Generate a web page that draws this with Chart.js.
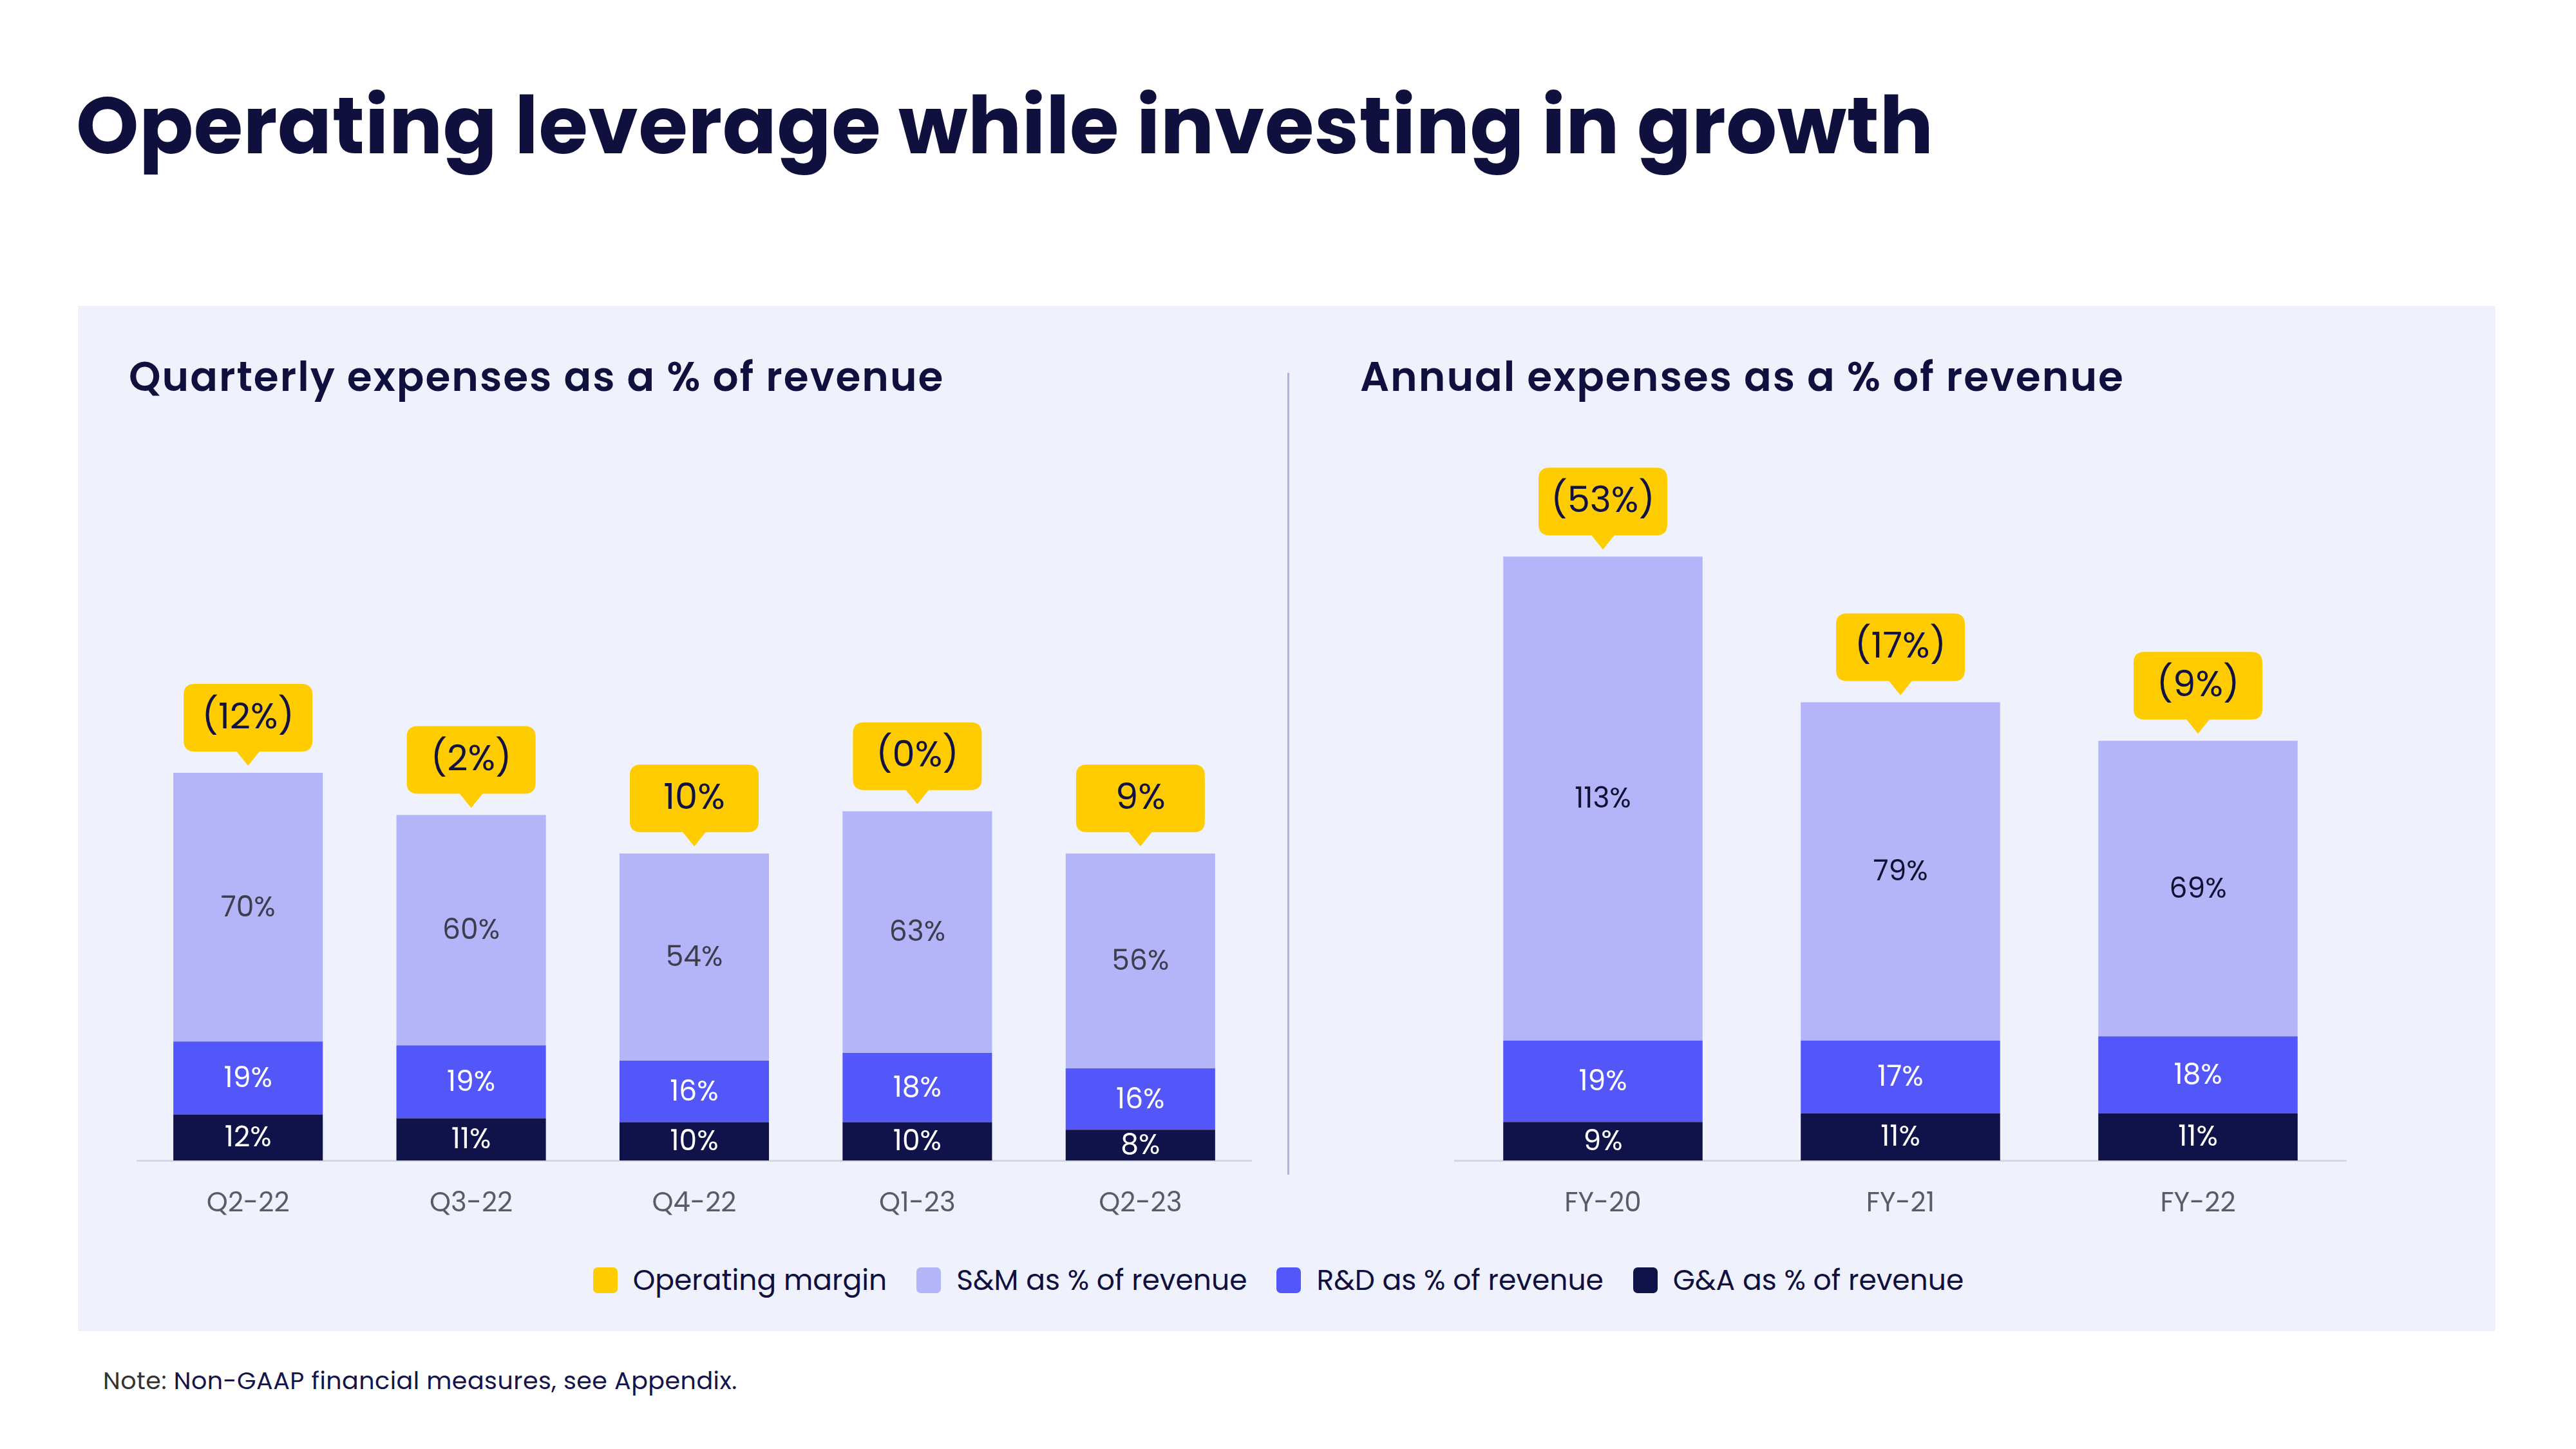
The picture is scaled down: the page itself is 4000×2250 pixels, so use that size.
<!DOCTYPE html>
<html>
<head>
<meta charset="utf-8">
<script src="https://cdn.jsdelivr.net/npm/chart.js@4.4.1/dist/chart.umd.min.js"></script>
<style>
  html, body { margin:0; padding:0; background:#ffffff; }
  body { width:4000px; height:2250px; position:relative; overflow:hidden; font-family: Poppins, Inter, "Noto Sans", sans-serif; }
  .abs { position:absolute; white-space:nowrap; line-height:1; }
  #title { left:118px; top:133px; font-size:124px; font-weight:700; color:#10103f; letter-spacing:0.5px; }
  #panel { left:121px; top:475px; width:3754px; height:1592px; background:#eff1fd; }
  .sub { font-size:63px; font-weight:600; color:#10103f; top:554px; letter-spacing:2px; }
  #divider { left:1999px; top:579px; width:3px; height:1245px; background:#b3b0e0; }
  #legend { left:0; top:1966px; width:3970px; display:flex; justify-content:center; align-items:center; gap:46px; font-size:44px; color:#10103f; }
  .li { display:flex; align-items:center; gap:24px; }
  .sw { width:38px; height:40px; border-radius:7px; }
  #note { left:160px; top:2125px; font-size:38px; color:#14144a; letter-spacing:0.5px; }
  #note span { color:#333333; }
  canvas { position:absolute; }
</style>
</head>
<body>
<div id="panel" class="abs"></div>
<div id="title" class="abs">Operating leverage while investing in growth</div>
<div class="abs sub" style="left:200px;">Quarterly expenses as a % of revenue</div>
<div class="abs sub" style="left:2112px;">Annual expenses as a % of revenue</div>
<div id="divider" class="abs"></div>
<canvas id="q" width="1732" height="1002" style="left:212px; top:900px;"></canvas>
<canvas id="a" width="1386" height="1302" style="left:2258px; top:600px;"></canvas>
<div id="legend" class="abs"></div>
<div id="note" class="abs"><span>Note:</span> Non-GAAP financial measures, see Appendix.</div>

<script>
// ---------- DATA ----------
const quarterLabels = ['Q2-22', 'Q3-22', 'Q4-22', 'Q1-23', 'Q2-23'];
const quarterGA     = [12, 11, 10, 10, 8];
const quarterRD     = [19, 19, 16, 18, 16];
const quarterSM     = [70, 60, 54, 63, 56];
const quarterMargin = [-12, -2, 10, -0.3, 9];

const annualLabels = ['FY-20', 'FY-21', 'FY-22'];
const annualGA     = [9, 11, 11];
const annualRD     = [19, 17, 18];
const annualSM     = [113, 79, 69];
const annualMargin = [-53, -17, -9];

const seriesNames = ['Operating margin', 'S&M as % of revenue', 'R&D as % of revenue', 'G&A as % of revenue'];

// ---------- STYLE ----------
const COLORS = { margin:'#ffcc00', sm:'#b3b5f8', rd:'#5356f9', ga:'#10124a' };
const FONT = 'Poppins, Inter, "Noto Sans", sans-serif';

// legend
const legend = document.getElementById('legend');
const legendColors = [COLORS.margin, COLORS.sm, COLORS.rd, COLORS.ga];
seriesNames.forEach((n, i) => {
  const d = document.createElement('div'); d.className = 'li';
  const s = document.createElement('div'); s.className = 'sw'; s.style.background = legendColors[i];
  const t = document.createElement('span'); t.textContent = n;
  d.appendChild(s); d.appendChild(t); legend.appendChild(d);
});

function fmtMargin(v) {
  const r = Math.round(Math.abs(v));
  return v < 0 ? '(' + r + '%)' : r + '%';
}

function roundRectPath(ctx, x, y, w, h, r) {
  ctx.beginPath();
  ctx.moveTo(x + r, y);
  ctx.lineTo(x + w - r, y);
  ctx.quadraticCurveTo(x + w, y, x + w, y + r);
  ctx.lineTo(x + w, y + h - r);
  ctx.quadraticCurveTo(x + w, y + h, x + w - r, y + h);
  ctx.lineTo(x + r, y + h);
  ctx.quadraticCurveTo(x, y + h, x, y + h - r);
  ctx.lineTo(x, y + r);
  ctx.quadraticCurveTo(x, y, x + r, y);
  ctx.closePath();
}

const segmentLabels = {
  id: 'segmentLabels',
  afterDatasetsDraw(chart, args, opts) {
    const ctx = chart.ctx;
    ctx.save();
    ctx.textAlign = 'center';
    ctx.textBaseline = 'middle';
    ctx.font = '400 44px ' + FONT;
    chart.data.datasets.forEach((ds, di) => {
      const meta = chart.getDatasetMeta(di);
      ctx.fillStyle = ds.labelColor;
      meta.data.forEach((el, i) => {
        const v = ds.data[i];
        ctx.fillText(v + '%', el.x, (el.y + el.base) / 2 + 3);
      });
    });
    ctx.restore();
  }
};

const marginCallouts = {
  id: 'marginCallouts',
  afterDraw(chart, args, opts) {
    const ctx = chart.ctx;
    const values = opts.values;
    const top = chart.getDatasetMeta(chart.data.datasets.length - 1);
    ctx.save();
    top.data.forEach((el, i) => {
      const cx = el.x;
      const tipY = el.y - 11;
      const boxH = 105, boxW = 200, pH = 22, pW = 37;
      const boxBottom = tipY - pH;
      const boxTop = boxBottom - boxH;
      ctx.fillStyle = COLORS.margin;
      roundRectPath(ctx, cx - boxW / 2, boxTop, boxW, boxH, 17);
      ctx.fill();
      ctx.beginPath();
      ctx.moveTo(cx - pW / 2, boxBottom - 1);
      ctx.lineTo(cx + pW / 2, boxBottom - 1);
      ctx.lineTo(cx, tipY);
      ctx.closePath();
      ctx.fill();
      ctx.fillStyle = '#11123f';
      ctx.font = '400 56px ' + FONT;
      ctx.textAlign = 'center';
      ctx.textBaseline = 'middle';
      ctx.fillText(fmtMargin(values[i]), cx, boxTop + boxH / 2 + 2);
    });
    ctx.restore();
  }
};

function makeChart(id, labels, ga, rd, sm, margin, yMax, padTop, smLabelColor) {
  return new Chart(document.getElementById(id), {
    type: 'bar',
    data: {
      labels: labels,
      datasets: [
        { label: seriesNames[3], data: ga, backgroundColor: COLORS.ga, labelColor: '#ffffff' },
        { label: seriesNames[2], data: rd, backgroundColor: COLORS.rd, labelColor: '#ffffff' },
        { label: seriesNames[1], data: sm, backgroundColor: COLORS.sm, labelColor: smLabelColor }
      ]
    },
    options: {
      responsive: false,
      animation: false,
      devicePixelRatio: 1,
      layout: { padding: { top: padTop, bottom: 0, left: 0, right: 0 } },
      datasets: { bar: { categoryPercentage: 1.0, barPercentage: 0.67, borderWidth: 0 } },
      plugins: {
        legend: { display: false },
        tooltip: { enabled: false },
        marginCallouts: { values: margin }
      },
      scales: {
        x: {
          stacked: true,
          grid: { display: false, drawTicks: false },
          border: { display: true, color: '#d4d7e5', width: 3 },
          ticks: { color: '#5b5b66', font: { family: FONT, size: 42 }, padding: 43, maxRotation: 0 },
          afterFit(scale) { scale.height = 100; }
        },
        y: { stacked: true, display: false, min: 0, max: yMax }
      }
    },
    plugins: [segmentLabels, marginCallouts]
  });
}

makeChart('q', quarterLabels, quarterGA, quarterRD, quarterSM, quarterMargin, 120, 186.8, '#3d3d4d');
makeChart('a', annualLabels, annualGA, annualRD, annualSM, annualMargin, 150, 204.5, '#111133');
</script>
</body>
</html>
